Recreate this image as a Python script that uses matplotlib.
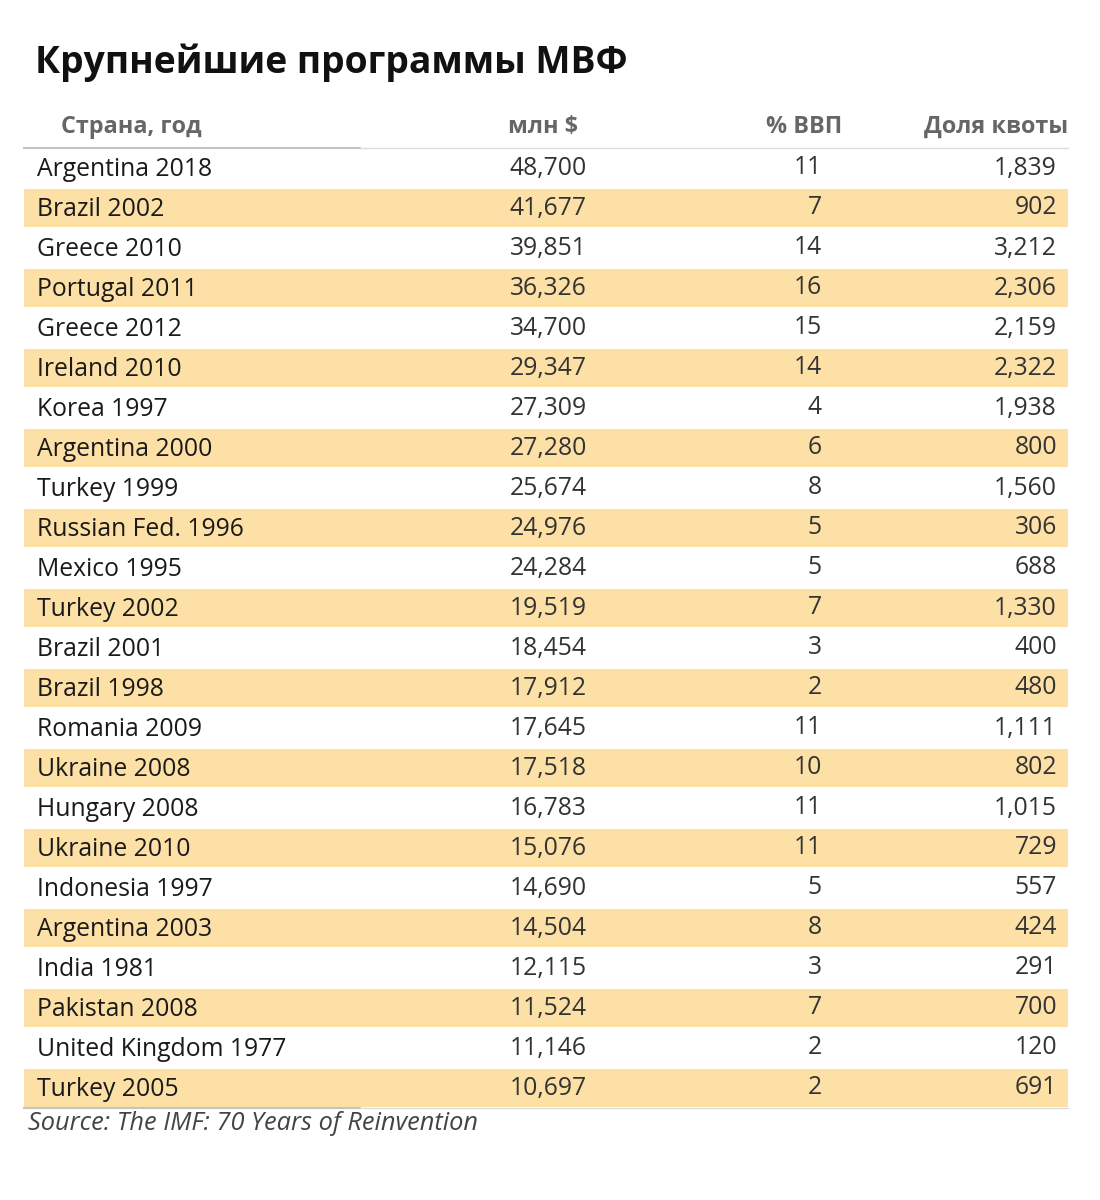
import matplotlib.pyplot as plt

plt.rcParams['font.family'] = ['Open Sans', 'DejaVu Sans']

title = 'Крупнейшие программы МВФ'
headers = ['Страна, год', 'млн $', '% ВВП', 'Доля квоты']
countries = ['Argentina 2018', 'Brazil 2002', 'Greece 2010', 'Portugal 2011',
             'Greece 2012', 'Ireland 2010', 'Korea 1997', 'Argentina 2000',
             'Turkey 1999', 'Russian Fed. 1996', 'Mexico 1995', 'Turkey 2002',
             'Brazil 2001', 'Brazil 1998', 'Romania 2009', 'Ukraine 2008',
             'Hungary 2008', 'Ukraine 2010', 'Indonesia 1997', 'Argentina 2003',
             'India 1981', 'Pakistan 2008', 'United Kingdom 1977', 'Turkey 2005']
usd_mln = [48700, 41677, 39851, 36326, 34700, 29347, 27309, 27280, 25674, 24976,
           24284, 19519, 18454, 17912, 17645, 17518, 16783, 15076, 14690, 14504,
           12115, 11524, 11146, 10697]
gdp_pct = [11, 7, 14, 16, 15, 14, 4, 6, 8, 5, 5, 7, 3, 2, 11, 10, 11, 11, 5, 8,
           3, 7, 2, 2]
quota = [1839, 902, 3212, 2306, 2159, 2322, 1938, 800, 1560, 306, 688, 1330,
         400, 480, 1111, 802, 1015, 729, 557, 424, 291, 700, 120, 691]
source = 'Source: The IMF: 70 Years of Reinvention'

fig = plt.figure(figsize=(11, 12), dpi=100)
ax = fig.add_axes([0, 0, 1, 1])
ax.set_xlim(0, 1100)
ax.set_ylim(1200, 0)
ax.axis('off')

ax.text(35, 63, title, fontsize=26.8, fontweight='bold', color='#111111', va='center')

# header
hs = 16.8
ax.text(61, 127, headers[0], fontsize=hs, fontweight='bold', color='#666666', va='center')
ax.text(578, 127, headers[1], fontsize=hs, fontweight='bold', color='#666666', va='center', ha='right')
ax.text(842, 127, headers[2], fontsize=hs, fontweight='bold', color='#666666', va='center', ha='right')
ax.text(1068, 127, headers[3], fontsize=hs, fontweight='bold', color='#666666', va='center', ha='right')

top = 148
h = 40
fs = 17.8
for i, name in enumerate(countries):
    y0 = top + i * h
    yc = y0 + h / 2
    if i % 2 == 1:
        ax.add_patch(plt.Rectangle((24, y0 + 1), 1044, h - 2, color='#fde0a6', lw=0))
    ax.text(37, yc + 1, name, fontsize=fs, color='#1a1a1a', va='center')
    ax.text(587, yc, f'{usd_mln[i]:,}', fontsize=fs, color='#333333', va='center', ha='right')
    ax.text(822, yc, f'{gdp_pct[i]}', fontsize=fs, color='#333333', va='center', ha='right')
    ax.text(1057, yc, f'{quota[i]:,}', fontsize=fs, color='#333333', va='center', ha='right')

bottom = top + len(countries) * h
for y in (top, bottom):
    ax.plot([24, 360], [y, y], color='#c4c4c4', lw=1.5)
    ax.plot([360, 1068], [y, y], color='#dddddd', lw=1)

ax.text(28, 1124, source, fontsize=18.3, style='italic', color='#444444', va='center')

fig.savefig('out.png', dpi=100)
